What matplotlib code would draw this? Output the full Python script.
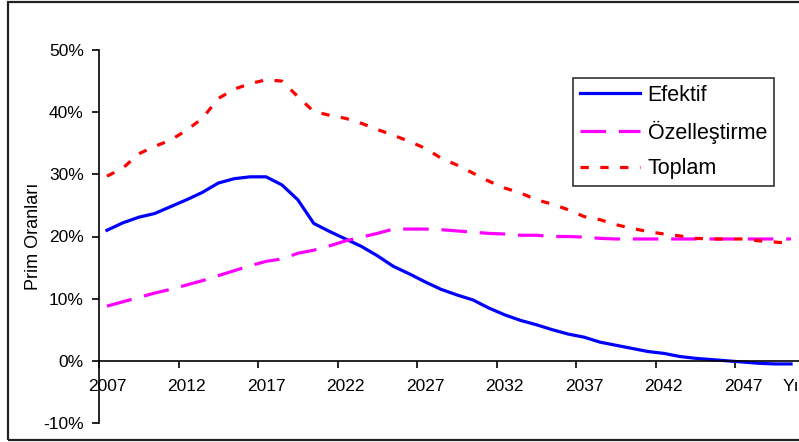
import matplotlib.pyplot as plt
from matplotlib.patches import Rectangle
from matplotlib.ticker import FuncFormatter

plt.rcParams['font.family'] = ['Liberation Sans', 'DejaVu Sans']

years = list(range(2007, 2051))

efektif = [21.0, 22.2, 23.1, 23.7, 24.8, 25.9, 27.1, 28.6, 29.3, 29.6,
           29.6, 28.3, 25.9, 22.1, 20.8, 19.6, 18.4, 16.9, 15.2, 14.0,
           12.7, 11.5, 10.6, 9.8, 8.5, 7.4, 6.5, 5.8, 5.0, 4.3,
           3.8, 3.0, 2.5, 2.0, 1.5, 1.2, 0.7, 0.4, 0.2, 0.0,
           -0.2, -0.4, -0.5, -0.5]

ozellestirme = [8.8, 9.5, 10.2, 10.9, 11.5, 12.2, 12.9, 13.7, 14.5, 15.3,
                16.0, 16.4, 17.3, 17.8, 18.5, 19.3, 19.9, 20.5, 21.2, 21.2,
                21.2, 21.1, 20.9, 20.7, 20.5, 20.4, 20.2, 20.2, 20.0, 20.0,
                19.9, 19.7, 19.6, 19.6, 19.6, 19.6, 19.6, 19.6, 19.6, 19.6,
                19.6, 19.6, 19.6, 19.6]

toplam = [29.7, 31.0, 33.3, 34.5, 35.5, 37.1, 39.0, 42.2, 43.7, 44.6,
          45.2, 45.0, 42.5, 40.1, 39.5, 39.0, 38.2, 37.2, 36.3, 35.3,
          34.2, 32.6, 31.5, 30.2, 28.9, 27.8, 27.0, 25.9, 25.2, 24.3,
          23.2, 22.7, 21.9, 21.3, 20.8, 20.4, 20.1, 19.7, 19.6, 19.6,
          19.6, 19.3, 19.1, 18.9]

label_years = [2007, 2012, 2017, 2022, 2027, 2032, 2037, 2042, 2047]
y_ticks = [-10, 0, 10, 20, 30, 40, 50]

W, H = 799, 442
fig = plt.figure(figsize=(W / 100, H / 100), dpi=100)
ax = fig.add_axes([99 / W, 19 / H, 700 / W, 373 / H])

# outer chart border (right side runs off the image)
fig.add_artist(Rectangle((8 / W, 2 / H), 1.2, (H - 3.5) / H,
                         transform=fig.transFigure, fill=False,
                         edgecolor='#222222', lw=1.6))

ax.plot(years, efektif, color='#0000FF', lw=2.3, label='Efektif')
ax.plot(years, ozellestirme, color='#FF00FF', lw=2.3,
        dashes=(8, 4), label='Özelleştirme')
ax.plot(years, toplam, color='#FF0000', lw=2.3,
        dashes=(2.6, 3.6), label='Toplam')

ax.set_xlim(2006.5, 2050.5)
ax.set_ylim(-10, 50)

for s in ['top', 'right']:
    ax.spines[s].set_visible(False)
ax.spines['bottom'].set_position(('data', 0))
ax.spines['left'].set_linewidth(1.2)
ax.spines['bottom'].set_linewidth(1.2)

ax.set_yticks(y_ticks)
ax.yaxis.set_major_formatter(FuncFormatter(lambda v, p: f'{v:.0f}%'))
ax.tick_params(axis='y', length=5, width=1.2, pad=6, labelsize=12.5)

# year labels sit in the category centres, tick marks on the boundaries
ax.set_xticks(label_years)
ax.set_xticks([y - 0.5 for y in label_years], minor=True)
ax.tick_params(axis='x', which='major', length=0, pad=13, labelsize=12.5)
ax.tick_params(axis='x', which='minor', length=5, width=1.2)

ax.annotate('Yıl', xy=(2049.5, 0), xytext=(0, -13),
            textcoords='offset points', fontsize=12.5, ha='left', va='top',
            annotation_clip=False)

ax.set_ylabel('Prim Oranları', fontsize=13, labelpad=1)

leg = ax.legend(loc='upper left', bbox_to_anchor=(0.677, 0.925),
                borderaxespad=0, fontsize=15.5, frameon=True, fancybox=False,
                edgecolor='black', handlelength=2.8, handletextpad=0.35,
                labelspacing=0.68, borderpad=0.32)
leg.get_frame().set_linewidth(1.2)

fig.savefig('out.png', dpi=100)
